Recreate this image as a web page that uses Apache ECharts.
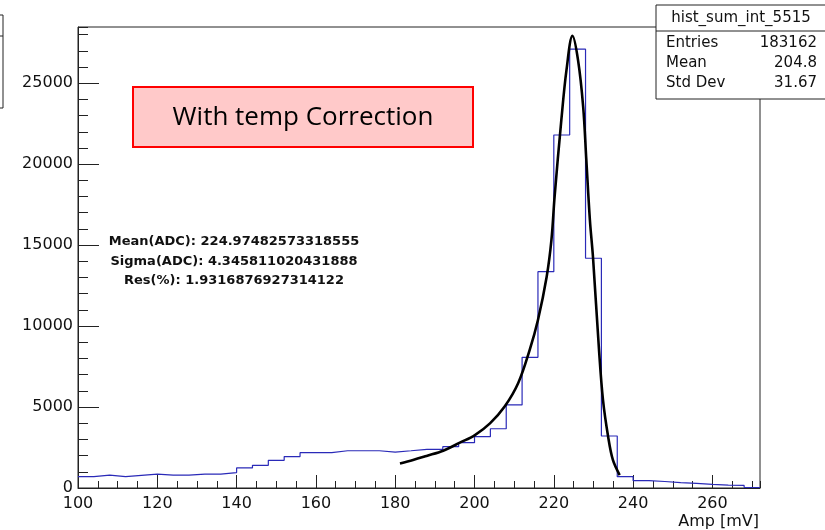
<!DOCTYPE html>
<html><head><meta charset="utf-8">
<script src="https://cdn.jsdelivr.net/npm/echarts@6/dist/echarts.min.js"></script>
<style>html,body{margin:0;padding:0;background:#fff}#c{width:825px;height:530px}</style>
</head><body><div id="c"></div>
<script>
// Histogram bins (lower edges, width 4 mV) and counts
const binLowEdges = [100,104,108,112,116,120,124,128,132,136,140,144,148,152,156,160,164,168,172,176,180,184,188,192,196,200,204,208,212,216,220,224,228,232,236,240,244,248,252,256,260,264,268];
const binCounts   = [700,800,700,780,860,800,800,860,860,950,1240,1400,1710,1940,2180,2180,2300,2300,2300,2220,2300,2390,2390,2550,2800,3170,3660,5130,8070,13360,21800,27100,14190,3210,700,450,400,330,280,220,180,160,30];
const binWidth = 4;

// Fit curve points
const fitX = [181.2,184.5,187.9,192.1,196.3,200.1,203.9,207.6,211.0,213.9,216.0,218.2,219.4,220.2,221.9,223.2,224.7,226.1,227.4,228.2,229.1,229.9,231.4,232.4,233.7,234.9,236.6];
const fitY = [1520,1730,1980,2300,2800,3270,3990,5030,6470,8520,10380,13050,15320,18000,22730,25820,27920,26440,23550,20260,16550,14190,8520,5440,3170,1730,800];

// Texts
const statsTitle = 'hist_sum_int_5515';
const statsLabels = ['Entries','Mean','Std Dev'];
const statsValues = ['183162','204.8','31.67'];
const fitTexts = ['Mean(ADC): 224.97482573318555','Sigma(ADC): 4.345811020431888','Res(%): 1.9316876927314122'];
const boxText = 'With temp Correction';
const xAxisTitle = 'Amp [mV]';

const histData = binLowEdges.map((e,i)=>[e,binCounts[i]]);
histData.push([binLowEdges[binLowEdges.length-1]+binWidth, binCounts[binCounts.length-1]]);
const fitData = fitX.map((x,i)=>[x,fitY[i]]);

const XMIN=100, XMAX=272, YMIN=0, YMAX=28470;
const axisColor='#222';
const lblFont={fontFamily:'DejaVu Sans',fontSize:16,color:'#111'};

const chart = echarts.init(document.getElementById('c'));
const graphics = [];
// left cut-off box
graphics.push({type:'rect',shape:{x:-20,y:15,width:23,height:93},style:{fill:'#fff',stroke:axisColor,lineWidth:1},z:100});
graphics.push({type:'line',shape:{x1:-20,y1:36,x2:3,y2:36},style:{stroke:axisColor,lineWidth:1},z:100});
// stats box
graphics.push({type:'rect',shape:{x:656,y:5,width:180,height:94},style:{fill:'#fff',stroke:axisColor,lineWidth:1},z:100});
graphics.push({type:'line',shape:{x1:656,y1:31,x2:830,y2:31},style:{stroke:axisColor,lineWidth:1},z:100});
graphics.push({type:'text',x:741,y:18,style:{text:statsTitle,fontFamily:'DejaVu Sans',fontSize:15,fill:'#111',align:'center',verticalAlign:'middle'},z:101});
statsLabels.forEach((l,i)=>{
  graphics.push({type:'text',x:666,y:43+i*20,style:{text:l,fontFamily:'DejaVu Sans',fontSize:15,fill:'#111',align:'left',verticalAlign:'middle'},z:101});
  graphics.push({type:'text',x:817,y:43+i*20,style:{text:statsValues[i],fontFamily:'DejaVu Sans',fontSize:15,fill:'#111',align:'right',verticalAlign:'middle'},z:101});
});
// pink label box
graphics.push({type:'rect',shape:{x:133,y:87,width:340,height:60},style:{fill:'#FFC9C9',stroke:'#FF0000',lineWidth:2},z:100});
graphics.push({type:'text',x:303,y:118,style:{text:boxText,fontFamily:'Open Sans',fontSize:26,fill:'#000',align:'center',verticalAlign:'middle'},z:101});
// fit result texts
fitTexts.forEach((t,i)=>{
  graphics.push({type:'text',x:234,y:242+i*19.5,style:{text:t,fontFamily:'DejaVu Sans',fontWeight:'bold',fontSize:13,fill:'#111',align:'center',verticalAlign:'middle'},z:101});
});
// x axis title
graphics.push({type:'text',x:759,y:522,style:{text:xAxisTitle,fontFamily:'DejaVu Sans',fontSize:16,fill:'#111',align:'right',verticalAlign:'middle'},z:101});

chart.setOption({
  animation:false,
  backgroundColor:'#fff',
  grid:{left:78,right:65,top:27,bottom:42,show:true,borderColor:axisColor,borderWidth:1,backgroundColor:'transparent'},
  xAxis:[
    {type:'value',min:XMIN,max:XMAX,interval:20,position:'bottom',
     axisLine:{show:true,lineStyle:{color:axisColor,width:1}},
     axisTick:{show:true,inside:true,length:13,lineStyle:{color:axisColor}},
     axisLabel:Object.assign({margin:8,showMaxLabel:false,formatter:v=>String(v)},lblFont),
     splitLine:{show:false}},
    {type:'value',min:XMIN,max:XMAX,interval:5,position:'bottom',
     axisLine:{show:false},
     axisTick:{show:true,inside:true,length:7,lineStyle:{color:axisColor}},
     axisLabel:{show:false},splitLine:{show:false}}
  ],
  yAxis:[
    {type:'value',min:YMIN,max:YMAX,interval:5000,position:'left',
     axisLine:{show:true,lineStyle:{color:axisColor,width:1}},
     axisTick:{show:true,inside:true,length:21,lineStyle:{color:axisColor}},
     axisLabel:Object.assign({margin:5,showMaxLabel:false,formatter:v=>String(v)},lblFont),
     splitLine:{show:false}},
    {type:'value',min:YMIN,max:YMAX,interval:1000,position:'left',
     axisLine:{show:false},
     axisTick:{show:true,inside:true,length:10,lineStyle:{color:axisColor}},
     axisLabel:{show:false},splitLine:{show:false}}
  ],
  series:[
    {type:'line',name:'hist',data:histData,step:'end',showSymbol:false,symbol:'none',
     lineStyle:{color:'#2a2ab8',width:1.2},xAxisIndex:0,yAxisIndex:0,z:3},
    {type:'line',name:'fit',data:fitData,smooth:0.35,showSymbol:false,symbol:'none',
     lineStyle:{color:'#000',width:2.6},xAxisIndex:0,yAxisIndex:0,z:4}
  ],
  graphic:graphics
});
</script>
</body></html>
